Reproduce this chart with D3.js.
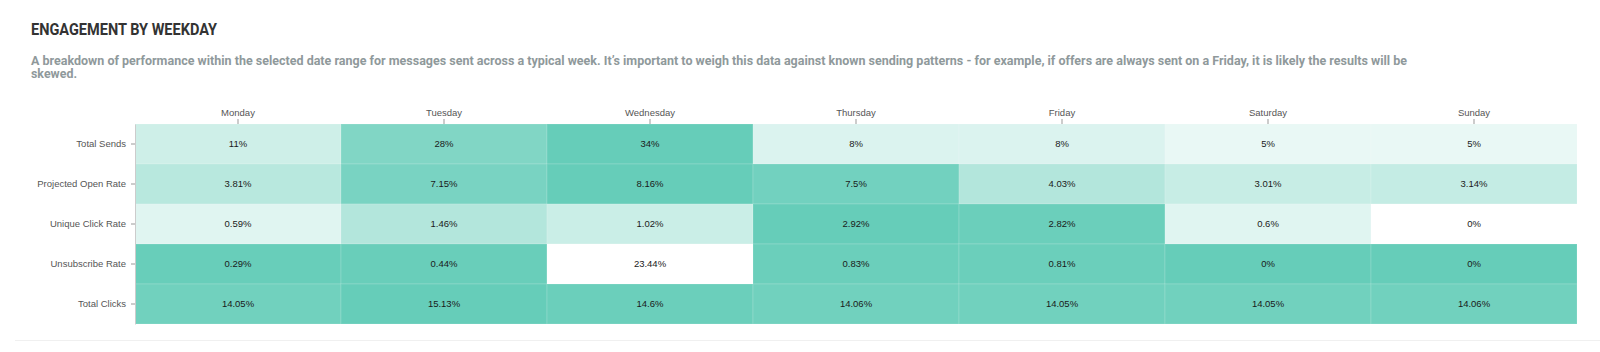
<!DOCTYPE html>
<html>
<head>
<meta charset="utf-8">
<script src="https://cdn.jsdelivr.net/npm/d3@7"></script>
<style>
  html, body { margin: 0; padding: 0; background: #fff; }
  svg { display: block; }
</style>
</head>
<body>
<svg id="chart" width="1600" height="352"></svg>
<script>
const titleText = "ENGAGEMENT BY WEEKDAY";
const subtitleLines = [
  "A breakdown of performance within the selected date range for messages sent across a typical week. It\u2019s important to weigh this data against known sending patterns - for example, if offers are always sent on a Friday, it is likely the results will be",
  "skewed."
];
const days = ["Monday", "Tuesday", "Wednesday", "Thursday", "Friday", "Saturday", "Sunday"];
const metrics = ["Total Sends", "Projected Open Rate", "Unique Click Rate", "Unsubscribe Rate", "Total Clicks"];
const totalSends = [11, 28, 34, 8, 8, 5, 5];
const projectedOpenRate = [3.81, 7.15, 8.16, 7.5, 4.03, 3.01, 3.14];
const uniqueClickRate = [0.59, 1.46, 1.02, 2.92, 2.82, 0.6, 0];
const unsubscribeRate = [0.29, 0.44, 23.44, 0.83, 0.81, 0, 0];
const totalClicks = [14.05, 15.13, 14.6, 14.06, 14.05, 14.05, 14.06];
const invertedMetrics = ["Unsubscribe Rate"];

const seriesByMetric = {
  "Total Sends": totalSends,
  "Projected Open Rate": projectedOpenRate,
  "Unique Click Rate": uniqueClickRate,
  "Unsubscribe Rate": unsubscribeRate,
  "Total Clicks": totalClicks
};

const svg = d3.select("#chart");

// Title and subtitle
svg.append("text")
  .attr("x", 31).attr("y", 35)
  .attr("font-family", "Roboto, 'DejaVu Sans Condensed', sans-serif")
  .attr("font-weight", 700)
  .attr("font-size", 17)
  .attr("fill", "#333")
  .attr("textLength", 186)
  .attr("lengthAdjust", "spacingAndGlyphs")
  .text(titleText);

const subLens = [1376, 46];
subtitleLines.forEach((line, i) => {
  svg.append("text")
    .attr("x", 31).attr("y", 65 + i * 13)
    .attr("font-family", "Roboto, 'DejaVu Sans Condensed', sans-serif")
    .attr("font-weight", 700)
    .attr("font-size", 13)
    .attr("fill", "#8f999b")
    .attr("textLength", subLens[i])
    .attr("lengthAdjust", "spacingAndGlyphs")
    .text(line);
});

// Heatmap
const mLeft = 135, mRight = 1577, mTop = 124, mBottom = 324;
const x = d3.scaleBand().domain(days).range([mLeft, mRight]).padding(0);
const y = d3.scaleBand().domain(metrics).range([mTop, mBottom]).padding(0);

const cells = [];
metrics.forEach(m => {
  const vals = seriesByMetric[m];
  const max = d3.max(vals);
  const inv = invertedMetrics.includes(m);
  const t = d3.scaleLinear().domain(inv ? [max, 0] : [0, max]).range([0, 1]);
  vals.forEach((v, i) => cells.push({ metric: m, day: days[i], value: v, t: t(v) }));
});

const color = d3.interpolateRgb("#ffffff", "#66cdb9");

const g = svg.append("g");
g.selectAll("rect.cell")
  .data(cells)
  .join("rect")
  .attr("class", "cell")
  .attr("x", d => x(d.day))
  .attr("y", d => y(d.metric))
  .attr("width", x.bandwidth())
  .attr("height", y.bandwidth())
  .attr("fill", d => color(d.t))
  .attr("stroke", "#ffffff")
  .attr("stroke-opacity", 0.15)
  .attr("stroke-width", 1);

g.selectAll("text.val")
  .data(cells)
  .join("text")
  .attr("class", "val")
  .attr("x", d => x(d.day) + x.bandwidth() / 2)
  .attr("y", d => y(d.metric) + y.bandwidth() / 2)
  .attr("dy", "0.35em")
  .attr("text-anchor", "middle")
  .attr("font-family", "'Liberation Sans', Arial, sans-serif")
  .attr("font-size", 9.5)
  .attr("fill", "#1a1a1a")
  .text(d => d.value + "%");

// Axes
const xAxis = svg.append("g")
  .attr("transform", `translate(0,${mTop})`)
  .call(d3.axisTop(x).tickSize(5).tickSizeOuter(0).tickPadding(3));
xAxis.select(".domain").remove();

const yAxis = svg.append("g")
  .attr("transform", `translate(${mLeft},0)`)
  .call(d3.axisLeft(y).tickSize(4).tickSizeOuter(0).tickPadding(5));

[xAxis, yAxis].forEach(a => {
  a.selectAll(".tick line").attr("stroke", "#999");
  a.selectAll(".domain").attr("stroke", "#ccc");
  a.selectAll(".tick text")
    .attr("font-family", "'Liberation Sans', Arial, sans-serif")
    .attr("font-size", 9.5)
    .attr("fill", "#555");
});

// Bottom separator
svg.append("line")
  .attr("x1", 15).attr("x2", 1600)
  .attr("y1", 340.5).attr("y2", 340.5)
  .attr("stroke", "#f0f0f0")
  .attr("stroke-width", 1);
</script>
</body>
</html>
